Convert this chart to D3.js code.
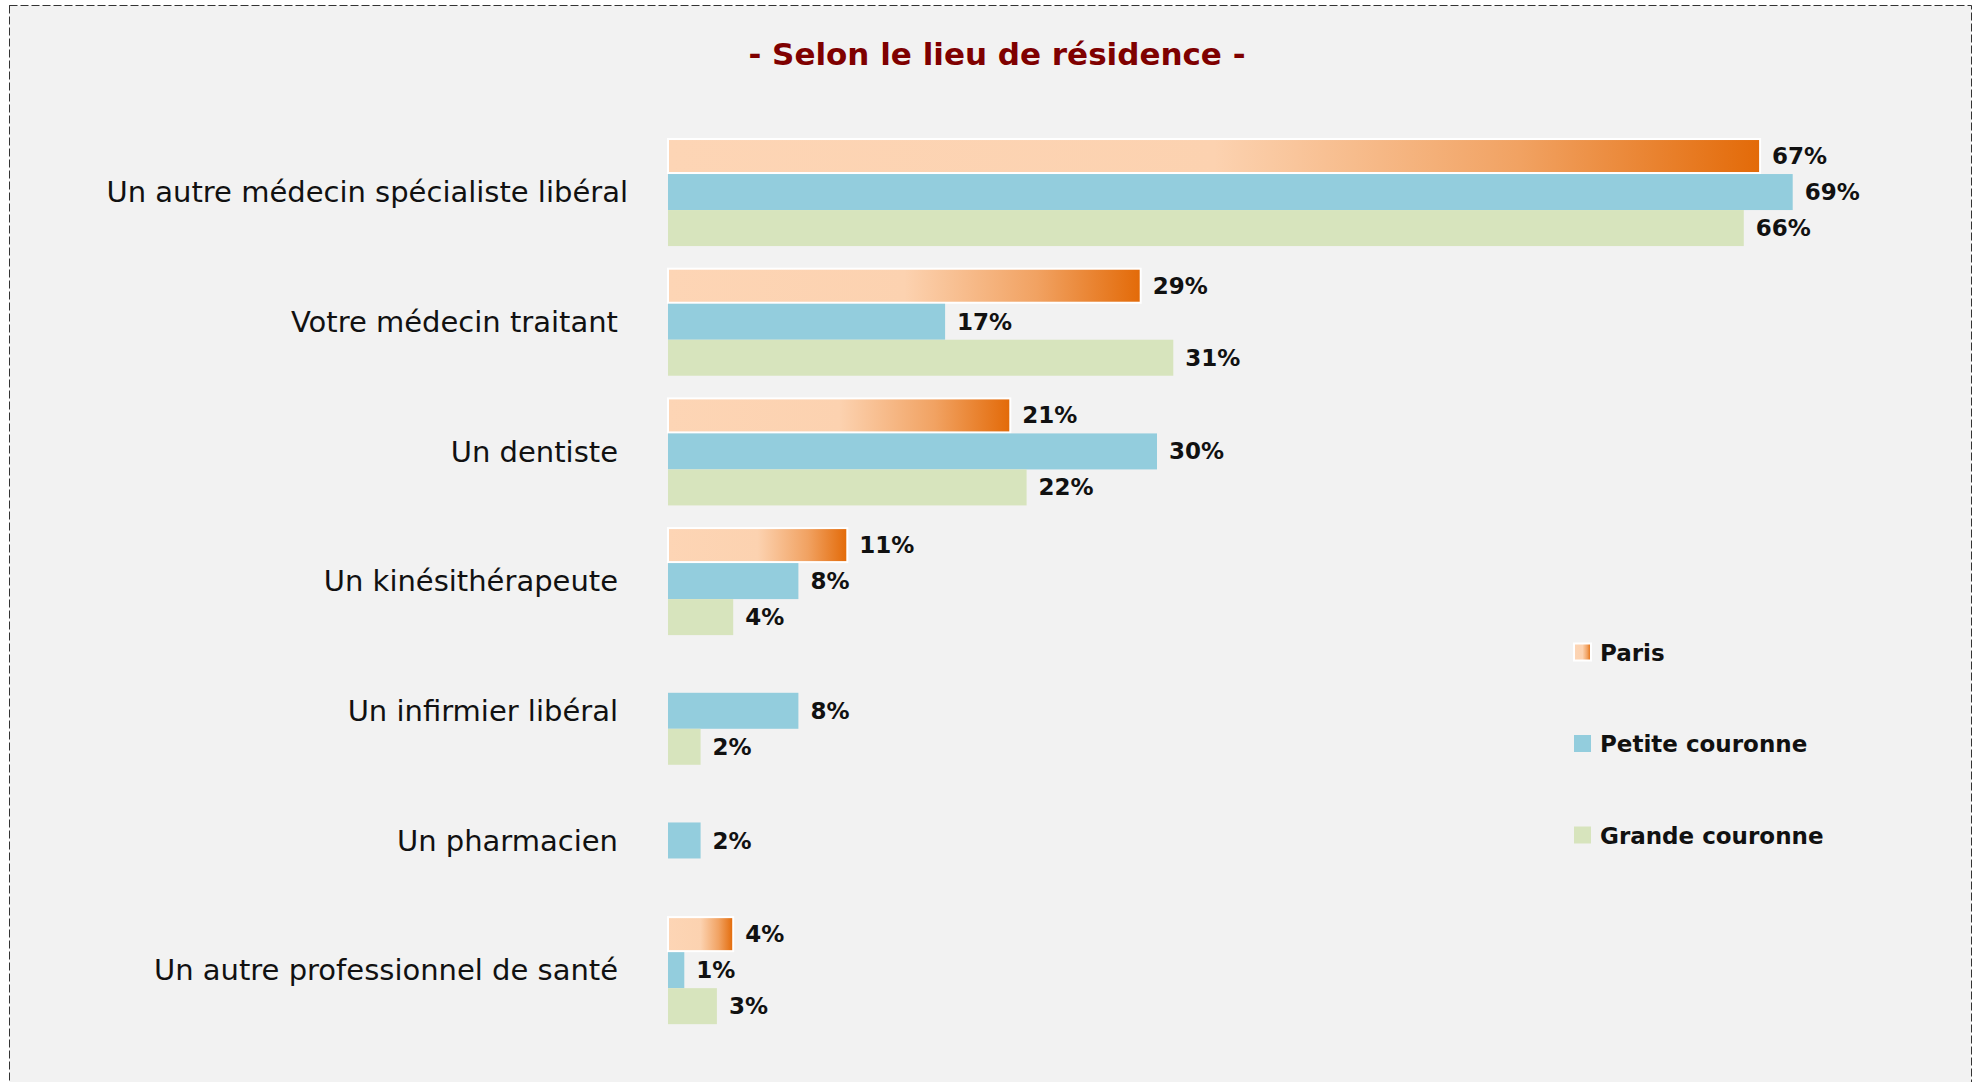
<!DOCTYPE html>
<html>
<head>
<meta charset="utf-8">
<script src="https://cdn.jsdelivr.net/npm/d3@7"></script>
<style>
  html, body { margin: 0; padding: 0; background: #ffffff; }
  svg { display: block; }
</style>
</head>
<body>
<div id="chart"></div>
<script>
// ---- data ----
const categories = [
  "Un autre médecin spécialiste libéral",
  "Votre médecin traitant",
  "Un dentiste",
  "Un kinésithérapeute",
  "Un infirmier libéral",
  "Un pharmacien",
  "Un autre professionnel de santé"
];
const seriesNames = ["Paris", "Petite couronne", "Grande couronne"];
const parisValues = [67, 29, 21, 11, null, null, 4];
const petiteValues = [69, 17, 30, 8, 8, 2, 1];
const grandeValues = [66, 31, 22, 4, 2, null, 3];
const titleText = "- Selon le lieu de résidence -";

// ---- layout ----
const W = 1972, H = 1082;
const svg = d3.select("#chart").append("svg").attr("width", W).attr("height", H);

const defs = svg.append("defs");
const grad = defs.append("linearGradient").attr("id", "parisGrad")
  .attr("x1", "0%").attr("x2", "100%").attr("y1", "0%").attr("y2", "0%");
grad.append("stop").attr("offset", "0%").attr("stop-color", "#fdd5b5");
grad.append("stop").attr("offset", "50%").attr("stop-color", "#fcd2b0");
grad.append("stop").attr("offset", "78%").attr("stop-color", "#f1a262");
grad.append("stop").attr("offset", "100%").attr("stop-color", "#e36a08");

// frame
svg.append("rect")
  .attr("x", 9.5).attr("y", 5.5).attr("width", 1962).attr("height", 1100)
  .attr("fill", "#f2f2f2").attr("stroke", "#333").attr("stroke-width", 1)
  .attr("stroke-dasharray", "8,3");

// title
svg.append("text")
  .attr("x", 997).attr("y", 65)
  .attr("text-anchor", "middle")
  .attr("font-family", "DejaVu Sans, sans-serif")
  .attr("font-weight", "bold")
  .attr("font-size", 31)
  .attr("fill", "#7f0000")
  .text(titleText);

const x = d3.scaleLinear().domain([0, 100]).range([668, 668 + 1630]);
const y0 = d3.scaleBand().domain(categories).range([127.2, 1035])
  .paddingInner(0.167).paddingOuter(0.0835);
const y1 = d3.scaleBand().domain(seriesNames).range([0, y0.bandwidth()]);

const fills = {
  "Paris": "url(#parisGrad)",
  "Petite couronne": "#93cddd",
  "Grande couronne": "#d7e4bd"
};
const valuesBySeries = {
  "Paris": parisValues,
  "Petite couronne": petiteValues,
  "Grande couronne": grandeValues
};

const rows = [];
categories.forEach((c, i) => {
  seriesNames.forEach(s => {
    const v = valuesBySeries[s][i];
    if (v !== null && v !== undefined) rows.push({ cat: c, series: s, value: v });
  });
});

// category labels
svg.append("g").selectAll("text").data(categories).join("text")
  .attr("x", (d, i) => i === 0 ? 628 : 618)
  .attr("y", d => y0(d) + y0.bandwidth() / 2)
  .attr("dy", "0.35em")
  .attr("text-anchor", "end")
  .attr("font-family", "DejaVu Sans, sans-serif")
  .attr("font-size", 29)
  .attr("fill", "#111")
  .text(d => d);

// bars
const gBars = svg.append("g");
gBars.selectAll("rect").data(rows).join("rect")
  .attr("x", x(0))
  .attr("y", d => y0(d.cat) + y1(d.series) + (d.series === "Paris" ? 1 : 0))
  .attr("width", d => x(d.value) - x(0))
  .attr("height", d => y1.bandwidth() - (d.series === "Paris" ? 2 : 0))
  .attr("fill", d => fills[d.series])
  .attr("stroke", d => d.series === "Paris" ? "#ffffff" : "none")
  .attr("stroke-width", 2);

// value labels
svg.append("g").selectAll("text").data(rows).join("text")
  .attr("x", d => x(d.value) + 12)
  .attr("y", d => y0(d.cat) + y1(d.series) + y1.bandwidth() / 2)
  .attr("dy", "0.35em")
  .attr("font-family", "DejaVu Sans, sans-serif")
  .attr("font-weight", "bold")
  .attr("font-size", 23)
  .attr("fill", "#111")
  .text(d => d.value + "%");

// legend
const legendY = d3.scalePoint().domain(seriesNames).range([652, 835]);
const lg = svg.append("g");
lg.selectAll("rect").data(seriesNames).join("rect")
  .attr("x", 1574)
  .attr("y", d => legendY(d) - 8.5)
  .attr("width", 17).attr("height", 17)
  .attr("fill", d => fills[d])
  .attr("stroke", d => d === "Paris" ? "#ffffff" : "none")
  .attr("stroke-width", 2);
lg.selectAll("text").data(seriesNames).join("text")
  .attr("x", 1600)
  .attr("y", d => legendY(d))
  .attr("dy", "0.37em")
  .attr("font-family", "DejaVu Sans, sans-serif")
  .attr("font-weight", "bold")
  .attr("font-size", 23)
  .attr("fill", "#111")
  .text(d => d);
</script>
</body>
</html>
